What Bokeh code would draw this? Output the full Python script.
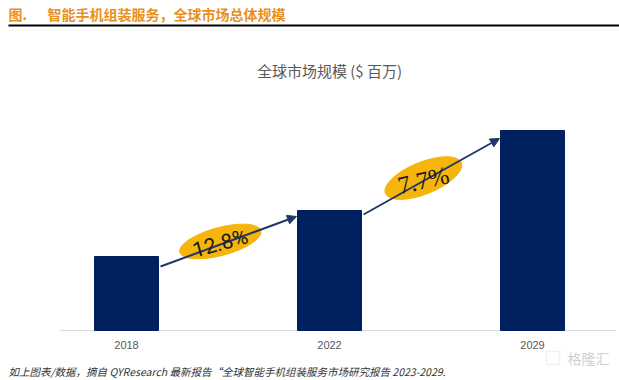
import math
from bokeh.plotting import figure
from bokeh.models import Label, Arrow, NormalHead, BoxAnnotation
from bokeh.core.properties import value
from bokeh.embed import file_html
from bokeh.resources import INLINE

# ---- data (bar heights estimated, relative) ----
years = ["2018", "2022", "2029"]
market = [740, 1200, 2000]          # global market size ($ million, estimated)
cagr = ["12.8%", "7.7%"]
header_no = "图."
header = "智能手机组装服务，全球市场总体规模"
chart_title = "全球市场规模 ($ 百万)"
footnote = "如上图表/数据，摘自 QYResearch 最新报告“全球智能手机组装服务市场研究报告 2023-2029."
watermark = "格隆汇"

W, H = 619, 380
PX_X = 203.0                 # pixels per category step
X_ORIGIN = 126.0             # pixel x of first category
PX_Y = 10.0                  # data units per pixel
Y_BASE = 330.0               # pixel y of the baseline

def dx(px):   # pixel x -> data x
    return (px - X_ORIGIN) / PX_X

def dy(py):   # pixel y (from top) -> data y
    return (Y_BASE - py) * PX_Y

p = figure(width=W, height=H, output_backend="svg", toolbar_location=None,
           x_range=(dx(0), dx(W)), y_range=(dy(H), dy(0)),
           min_border=0, x_axis_type=None, y_axis_type=None)
p.outline_line_color = None
p.grid.visible = False
p.background_fill_color = "white"
p.border_fill_color = "white"

xs = list(range(len(years)))
bw = 64.0 / PX_X

# baseline (category axis line) and category labels
p.segment(x0=[dx(60)], y0=[0], x1=[dx(615)], y1=[0],
          line_color="#D9D9D9", line_width=1)
p.text(x=xs, y=[0] * len(xs), text=years, y_offset=14,
       text_align="center", text_baseline="middle",
       text_font=value("Liberation Sans"), text_font_size="11px",
       text_color="#595959")

# bars
p.vbar(x=xs, top=market, width=bw, color="#002060")

# growth arrows with CAGR badges
start_off = [-100, -40]
end_off = [-60, -80]
ell_len = [84, 82]
ell_thk = [28, 32]
ell_ang = [15, 22]
txt_ang = [15.5, 13]
txt_font = ["Roboto", "Liberation Serif"]
txt_size = ["21px", "25px"]
for i in range(len(cagr)):
    xs0 = i + bw / 2 + 0.01
    ys0 = market[i] + start_off[i]
    xs1 = i + 1 - bw / 2 - 0.005
    ys1 = market[i + 1] + end_off[i]
    p.add_layout(Arrow(x_start=xs0, y_start=ys0, x_end=xs1, y_end=ys1,
                       line_color="#1F3864", line_width=2,
                       end=NormalHead(size=9, fill_color="#1F3864",
                                      line_color="#1F3864")))
    t = 0.44
    cx = xs0 + (xs1 - xs0) * t
    cy = ys0 + (ys1 - ys0) * t + 30
    p.ellipse(x=[cx], y=[cy], width=ell_len[i], height=ell_thk[i],
              width_units="screen", height_units="screen",
              angle=math.radians(ell_ang[i]),
              fill_color="#F5B50A", line_color="#F5B50A")
    p.add_layout(Label(x=cx, y=cy - 20, text=cagr[i], text_align="center",
                       text_baseline="middle", angle=math.radians(txt_ang[i]),
                       text_font=txt_font[i], text_font_size=txt_size[i],
                       text_color="#1A1A1A"))

# chart title
p.add_layout(Label(x=1, y=dy(70), text=chart_title, text_align="center",
                   text_baseline="middle", text_font="Noto Sans CJK SC",
                   text_font_size="15px", text_color="#595959"))

# header
p.add_layout(Label(x=dx(8), y=dy(13), text=header_no, text_align="left",
                   text_baseline="middle", text_font="Noto Sans CJK SC",
                   text_font_size="14px", text_font_style="bold",
                   text_color="#E8901E"))
p.add_layout(Label(x=dx(47), y=dy(13), text=header, text_align="left",
                   text_baseline="middle", text_font="Noto Sans CJK SC",
                   text_font_size="14px", text_font_style="bold",
                   text_color="#E8901E"))
p.add_layout(BoxAnnotation(left=dx(8), right=dx(W + 10), top=dy(24),
                           bottom=dy(26), fill_color="black", fill_alpha=1,
                           line_color=None))
p.add_layout(BoxAnnotation(left=dx(8), right=dx(W + 10), top=dy(29),
                           bottom=dy(30), fill_color="#F2F2F2", fill_alpha=1,
                           line_color=None))

# footnote and watermark
p.add_layout(Label(x=dx(8), y=dy(371), text=footnote, text_align="left",
                   text_baseline="middle", text_font="Noto Sans CJK SC",
                   text_font_size="10.5px", text_font_style="italic",
                   text_color="#333333"))
p.add_layout(BoxAnnotation(left=dx(546), right=dx(559), top=dy(351),
                           bottom=dy(364), fill_color=None, fill_alpha=0,
                           line_color="#D0D0D0", line_width=1.5))
p.add_layout(Label(x=dx(588), y=dy(357), text=watermark, text_align="center",
                   text_baseline="middle", text_font="Noto Sans CJK SC",
                   text_font_size="14px", text_color="#D0D0D0"))

open("out.html", "w").write(file_html(p, INLINE))
